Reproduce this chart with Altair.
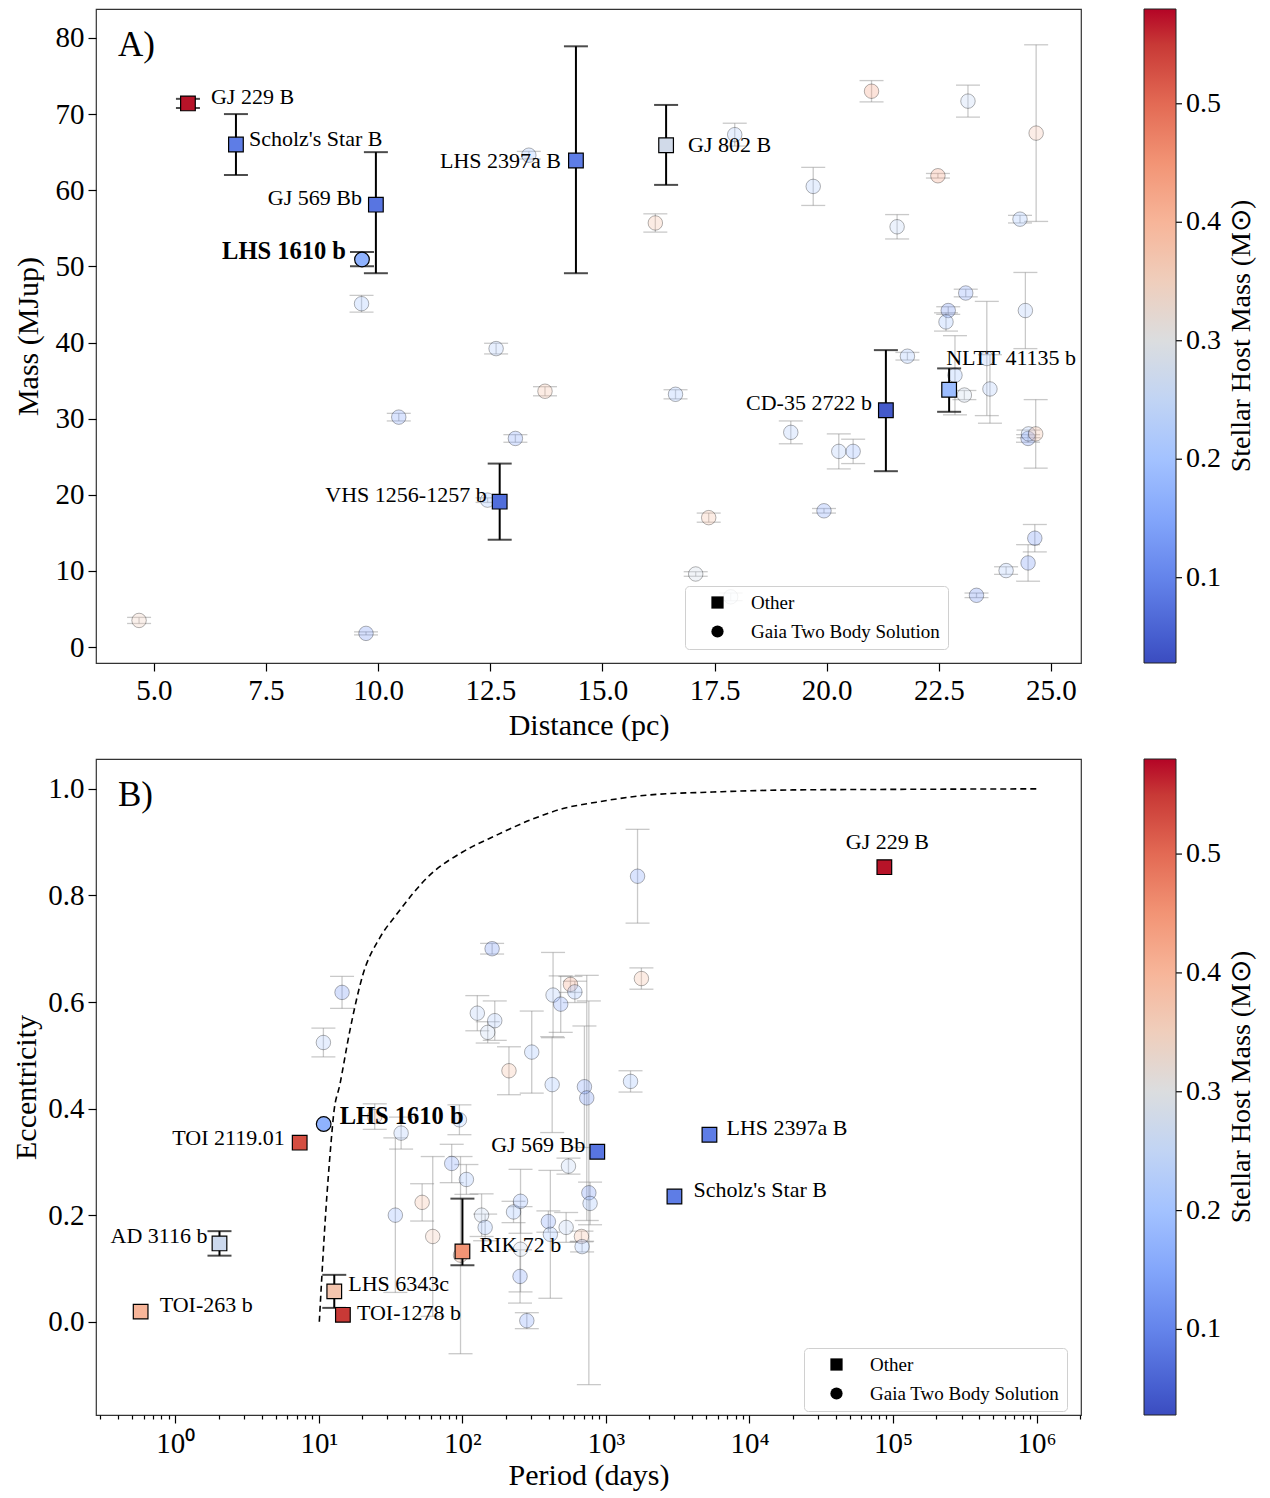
import altair as alt
import pandas as pd

FONT = "Liberation Serif"

# ---------------- Panel A : labelled objects ----------------
A_NAMES = ["GJ 229 B", "Scholz's Star B", "GJ 569 Bb", "LHS 1610 b", "LHS 2397a B",
           "GJ 802 B", "VHS 1256-1257 b", "CD-35 2722 b", "NLTT 41135 b"]
A_DIST = [5.76, 6.83, 9.95, 9.64, 14.41, 16.42, 12.71, 21.32, 22.73]
A_MASS = [71.4, 66.0, 58.1, 50.9, 63.9, 65.9, 19.1, 31.1, 33.8]
A_LO = [70.8, 62.0, 49.1, 50.0, 49.1, 60.7, 14.1, 23.1, 30.9]
A_HI = [72.0, 70.0, 65.0, 51.9, 78.9, 71.2, 24.1, 39.0, 36.6]
A_HOST = [0.575, 0.09, 0.08, 0.17, 0.09, 0.28, 0.07, 0.045, 0.19]
A_TYPE = ["Other", "Other", "Other", "Gaia Two Body Solution", "Other",
          "Other", "Other", "Other", "Other"]

# ---------------- Panel A : Gaia two-body solutions ----------------
GA_DIST = [9.63, 13.36, 17.95, 16.18, 19.70, 21.0, 21.57, 22.48, 23.15, 24.67,
           24.31, 23.10, 22.71, 22.66, 24.43, 23.57, 23.64, 22.86, 23.07, 21.80,
           24.49, 24.50, 24.66, 24.64, 24.49, 24.0, 23.34, 16.63, 19.20, 20.27,
           20.59, 17.37, 19.94, 17.08, 17.86, 12.63, 13.72, 10.46, 13.06, 12.44,
           4.67, 9.73]
GA_MASS = [45.1, 64.6, 67.3, 55.7, 60.5, 73.0, 55.2, 61.9, 71.7, 67.5,
           56.2, 46.5, 44.2, 42.7, 44.2, 37.9, 33.9, 35.7, 33.1, 38.2,
           27.4, 28.0, 28.0, 14.3, 11.05, 10.05, 6.8, 33.2, 28.2, 25.7,
           25.7, 17.0, 17.9, 9.6, 6.6, 39.2, 33.6, 30.2, 27.4, 19.3,
           3.5, 1.8]
GA_ERR = [1.1, 0.5, 1.5, 1.2, 2.5, 1.4, 1.6, 0.3, 2.1, 11.6,
          0.5, 0.5, 0.5, 1.2, 5.0, 7.5, 4.5, 5.2, 0.6, 0.5,
          0.5, 0.5, 4.5, 1.8, 2.4, 0.5, 0.3, 0.6, 1.5, 2.3,
          1.6, 0.6, 0.3, 0.3, 0.5, 0.7, 0.6, 0.5, 0.5, 0.3,
          0.4, 0.2]
GA_HOST = [0.20, 0.20, 0.22, 0.38, 0.22, 0.43, 0.25, 0.43, 0.25, 0.37,
           0.20, 0.15, 0.12, 0.20, 0.22, 0.22, 0.22, 0.20, 0.27, 0.20,
           0.12, 0.22, 0.38, 0.13, 0.13, 0.22, 0.12, 0.20, 0.22, 0.22,
           0.18, 0.38, 0.15, 0.28, 0.26, 0.22, 0.38, 0.15, 0.15, 0.20,
           0.35, 0.13]

# ---------------- Panel B : labelled objects ----------------
B_NAMES = ["GJ 229 B", "LHS 2397a B", "Scholz's Star B", "GJ 569 Bb", "LHS 1610 b",
           "TOI 2119.01", "AD 3116 b", "TOI-263 b", "LHS 6343c", "TOI-1278 b", "RIK 72 b"]
B_PERIOD = [87000, 5260, 3000, 870, 10.8, 7.35, 2.03, 0.573, 12.8, 14.7, 100.0]
B_ECC = [0.853, 0.351, 0.235, 0.319, 0.371, 0.336, 0.147, 0.019, 0.057, 0.013, 0.132]
B_HOST = [0.575, 0.09, 0.09, 0.08, 0.17, 0.53, 0.27, 0.40, 0.37, 0.55, 0.45]
B_TYPE = ["Other", "Other", "Other", "Other", "Gaia Two Body Solution",
          "Other", "Other", "Other", "Other", "Other", "Other"]
BE_NAMES = ["AD 3116 b", "LHS 6343c", "RIK 72 b"]
BE_LO = [0.124, 0.026, 0.106]
BE_HI = [0.170, 0.088, 0.231]

# ---------------- Panel B : Gaia two-body solutions ----------------
GB_PERIOD = [14.5, 10.75, 161, 127, 168, 150, 304, 211, 428, 484,
             566, 607, 708, 735, 760, 775, 37.4, 34.1, 52.4, 62.1,
             84.2, 95.3, 106.6, 97, 136, 144, 227, 254, 254, 252,
             281, 397, 410, 528, 548, 675, 682, 1660, 1766, 1483,
             24.5, 422]
GB_ECC = [0.618, 0.524, 0.700, 0.579, 0.565, 0.543, 0.506, 0.471, 0.613, 0.596,
          0.633, 0.619, 0.441, 0.420, 0.242, 0.222, 0.354, 0.200, 0.224, 0.160,
          0.297, 0.379, 0.267, 0.125, 0.200, 0.177, 0.206, 0.226, 0.136, 0.085,
          0.002, 0.188, 0.164, 0.177, 0.292, 0.160, 0.141, 0.836, 0.644, 0.451,
          0.385, 0.445]
GB_ERR = [0.030, 0.027, 0.010, 0.033, 0.037, 0.020, 0.077, 0.045, 0.080, 0.053,
          0.015, 0.020, 0.114, 0.230, 0.360, 0.040, 0.030, 0.145, 0.035, 0.150,
          0.036, 0.028, 0.028, 0.185, 0.040, 0.025, 0.020, 0.060, 0.080, 0.050,
          0.015, 0.020, 0.120, 0.028, 0.015, 0.010, 0.010, 0.088, 0.020, 0.020,
          0.024, 0.090]
GB_HOST = [0.13, 0.22, 0.13, 0.23, 0.22, 0.26, 0.20, 0.38, 0.22, 0.15,
           0.42, 0.20, 0.15, 0.13, 0.13, 0.20, 0.22, 0.18, 0.38, 0.36,
           0.15, 0.22, 0.20, 0.38, 0.26, 0.20, 0.20, 0.18, 0.27, 0.15,
           0.15, 0.15, 0.20, 0.25, 0.25, 0.38, 0.20, 0.15, 0.38, 0.20,
           0.38, 0.20]

# dashed limit curve
CURVE_P = [10.07, 11.16, 12.09, 12.69, 14.0, 16.4, 20.3, 26.5, 34.7, 59.2, 101,
           172.6, 294, 503, 859, 1905, 5550, 20000, 100000, 1000000]
CURVE_E = [0.0, 0.205, 0.329, 0.391, 0.445, 0.545, 0.652, 0.720, 0.764, 0.838, 0.882,
           0.913, 0.941, 0.963, 0.975, 0.988, 0.994, 0.998, 0.999, 1.0]

# coolwarm colormap stops
CW_COLS = ["#3b4cc0", "#4d68d7", "#6282ea", "#779af7", "#8db0fe", "#a3c2ff",
           "#b8d0f9", "#ccd9ee", "#dddddd", "#ecd3c5", "#f5c4ac", "#f7b194",
           "#f49a7b", "#ec7f63", "#de604d", "#cb3e38", "#b40426"]
HOST_MIN, HOST_MAX = 0.028, 0.58
CW_DOM = [HOST_MIN + i / 16 * (HOST_MAX - HOST_MIN) for i in range(17)]
CBAR_TICKS = [0.1, 0.2, 0.3, 0.4, 0.5]
CBAR_TITLE = "Stellar Host Mass (M\u2299)"

A_XTICKS = [5.0, 7.5, 10.0, 12.5, 15.0, 17.5, 20.0, 22.5, 25.0]
A_YTICKS = [0, 10, 20, 30, 40, 50, 60, 70, 80]
B_YTICKS = [0.0, 0.2, 0.4, 0.6, 0.8, 1.0]
B_XTICKS = [k * 10.0 ** n for n in range(-1, 7) for k in range(1, 10)
            if 0.28 <= k * 10.0 ** n <= 2.0e6]

SHAPE_DOM = ["Other", "Gaia Two Body Solution"]
SHAPE_RNG = ["square", "circle"]

H_A, H_B = 654, 656
CBAR_X = 1048
CBAR_W = 32


def color_enc(length):
    scale = alt.Scale(domain=CW_DOM, range=CW_COLS, clamp=True)
    leg = alt.Legend(
        orient="none", legendX=CBAR_X, legendY=0, direction="vertical",
        gradientLength=length, gradientThickness=CBAR_W, gradientStrokeColor="#222",
        gradientStrokeWidth=1, values=CBAR_TICKS, format=".1f",
        labelFont=FONT, labelFontSize=28, labelColor="black", labelOffset=10,
        title=None, padding=0)
    return alt.Color("host:Q", scale=scale, legend=leg)


def shape_enc(lx, ly):
    leg = alt.Legend(
        title=None, orient="none", legendX=lx, legendY=ly,
        fillColor="rgba(255,255,255,0.85)", strokeColor="#d0d0d0", cornerRadius=4,
        padding=7, symbolOffset=16, labelOffset=24, rowPadding=9, labelLimit=400,
        labelFont=FONT, labelFontSize=19, labelColor="black",
        symbolSize=150, symbolFillColor="black", symbolStrokeColor="black",
        symbolStrokeWidth=0, symbolOpacity=1)
    return alt.Shape("type:N", scale=alt.Scale(domain=SHAPE_DOM, range=SHAPE_RNG), legend=leg)


def panel(hl, faint, hl_err, xf, yenc, ylo, yhi, labels, tag, shape_xy, cbar_len,
          extra=None):
    layers = []
    layers.append(alt.Chart(faint).mark_rule(color="#888888", opacity=0.45, strokeWidth=1.3)
                  .encode(x=xf, y=ylo, y2="hi:Q"))
    layers.append(alt.Chart(faint).mark_tick(orient="horizontal", size=24, thickness=1.3,
                                             color="#888888", opacity=0.45)
                  .encode(x=xf, y=ylo))
    layers.append(alt.Chart(faint).mark_tick(orient="horizontal", size=24, thickness=1.3,
                                             color="#888888", opacity=0.45)
                  .encode(x=xf, y=yhi))
    layers.append(alt.Chart(faint).mark_point(shape="circle", filled=True, size=210,
                                              fillOpacity=0.3, strokeOpacity=0.3,
                                              stroke="black", strokeWidth=1)
                  .encode(x=xf, y=yenc, color=color_enc(cbar_len)))
    if extra is not None:
        layers.append(extra)
    layers.append(alt.Chart(hl_err).mark_rule(color="black", strokeWidth=2)
                  .encode(x=xf, y=ylo, y2="hi:Q"))
    layers.append(alt.Chart(hl_err).mark_tick(orient="horizontal", size=24, thickness=2,
                                              color="black")
                  .encode(x=xf, y=ylo))
    layers.append(alt.Chart(hl_err).mark_tick(orient="horizontal", size=24, thickness=2,
                                              color="black")
                  .encode(x=xf, y=yhi))
    layers.append(alt.Chart(hl).mark_point(filled=True, size=215, fillOpacity=1,
                                           stroke="black", strokeWidth=1.2)
                  .encode(x=xf, y=yenc, color=color_enc(cbar_len),
                          shape=shape_enc(*shape_xy)))
    for name, (dx, dy, align, weight) in labels.items():
        layers.append(alt.Chart(hl).transform_filter(alt.datum.name == name)
                      .mark_text(font=FONT, fontSize=24.5 if weight == "bold" else 22,
                                 dx=dx, dy=dy, align=align,
                                 baseline="middle", fontWeight=weight, color="black")
                      .encode(x=xf, y=yenc, text="name:N"))
    layers.append(alt.Chart(pd.DataFrame({"t": [tag]}))
                  .mark_text(font=FONT, fontSize=35, align="left", baseline="middle", color="black")
                  .encode(x=alt.value(22), y=alt.value(36), text="t:N"))
    layers.append(alt.Chart(pd.DataFrame({"t": [CBAR_TITLE]}))
                  .mark_text(font=FONT, fontSize=28, angle=270, align="center",
                             baseline="middle", color="black")
                  .encode(x=alt.value(1146), y=alt.value(cbar_len / 2), text="t:N"))
    main = alt.layer(*layers)
    # colourbar tick marks, on their own host-mass scale
    cticks = (alt.Chart(pd.DataFrame({"v": CBAR_TICKS}))
              .mark_rule(color="black", strokeWidth=1.2)
              .encode(y=alt.Y("v:Q", scale=alt.Scale(domain=[HOST_MIN, HOST_MAX], nice=False,
                                                     zero=False), axis=None),
                      x=alt.value(CBAR_X + CBAR_W), x2=alt.value(CBAR_X + CBAR_W + 6)))
    return alt.layer(main, cticks).resolve_scale(y="independent")


dfA = pd.DataFrame({"name": A_NAMES, "x": A_DIST, "y": A_MASS, "lo": A_LO, "hi": A_HI,
                    "host": A_HOST, "type": A_TYPE})
dfGA = pd.DataFrame({"x": GA_DIST, "y": GA_MASS, "host": GA_HOST})
dfGA["lo"] = dfGA["y"] - pd.Series(GA_ERR)
dfGA["hi"] = dfGA["y"] + pd.Series(GA_ERR)

dfB = pd.DataFrame({"name": B_NAMES, "x": B_PERIOD, "y": B_ECC, "host": B_HOST, "type": B_TYPE})
dfBE = dfB[dfB["name"].isin(BE_NAMES)].copy()
dfBE["lo"] = [BE_LO[BE_NAMES.index(n)] for n in dfBE["name"]]
dfBE["hi"] = [BE_HI[BE_NAMES.index(n)] for n in dfBE["name"]]
dfGB = pd.DataFrame({"x": GB_PERIOD, "y": GB_ECC, "host": GB_HOST})
dfGB["lo"] = dfGB["y"] - pd.Series(GB_ERR)
dfGB["hi"] = dfGB["y"] + pd.Series(GB_ERR)
dfC = pd.DataFrame({"x": CURVE_P, "y": CURVE_E})

ax_common = dict(labelFont=FONT, labelFontSize=29, labelColor="black", titleFont=FONT,
                 titleFontSize=30, titleFontWeight="normal", titleColor="black",
                 tickColor="black", tickWidth=1.2, domain=False, grid=False,
                 labelOverlap=False)
xA = alt.X("x:Q", scale=alt.Scale(domain=[3.71, 25.67], nice=False, zero=False),
           axis=alt.Axis(values=A_XTICKS, format=".1f", title="Distance (pc)", tickSize=8,
                         labelPadding=5, titlePadding=5, **ax_common))
yA_scale = alt.Scale(domain=[-2.09, 83.8], nice=False, zero=False)
yA_axis = alt.Axis(values=A_YTICKS, format="d", title="Mass (MJup)", labelPadding=4,
                   tickSize=8, titlePadding=12, **ax_common)
yA = alt.Y("y:Q", scale=yA_scale, axis=yA_axis)
yA_lo = alt.Y("lo:Q", scale=yA_scale, axis=yA_axis)
yA_hi = alt.Y("hi:Q", scale=yA_scale, axis=yA_axis)

labels_A = {
    "GJ 229 B": (23, -6, "left", "normal"),
    "Scholz's Star B": (13, -6, "left", "normal"),
    "GJ 569 Bb": (-14, -7, "right", "normal"),
    "LHS 1610 b": (-16, -8, "right", "bold"),
    "LHS 2397a B": (-15, 0, "right", "normal"),
    "GJ 802 B": (22, 0, "left", "normal"),
    "VHS 1256-1257 b": (-13, -7, "right", "normal"),
    "CD-35 2722 b": (-14, -7, "right", "normal"),
    "NLTT 41135 b": (-3, -32, "left", "normal"),
}

panelA = panel(dfA, dfGA, dfA, xA, yA, yA_lo, yA_hi, labels_A, "A)",
               (589, 577), H_A).properties(width=985, height=H_A)

is_major = "abs(log(datum.value)/LN10 - round(log(datum.value)/LN10)) < 0.001"
sup = "['\u2070','\u00b9','\u00b2','\u00b3','\u2074','\u2075','\u2076']"
xB = alt.X("x:Q", scale=alt.Scale(type="log", domain=[0.28, 2.04e6], nice=False),
           axis=alt.Axis(values=B_XTICKS, title="Period (days)",
                         labelExpr=is_major + " ? '10' + " + sup + "[round(log(datum.value)/LN10)] : ''",
                         tickSize={"condition": {"test": is_major, "value": 8}, "value": 4},
                         labelPadding=6, titlePadding=2, **ax_common))
yB_scale = alt.Scale(domain=[-0.175, 1.056], nice=False, zero=False)
yB_axis = alt.Axis(values=B_YTICKS, format=".1f", title="Eccentricity", labelPadding=4,
                   titlePadding=6, tickSize=8, **ax_common)
yB = alt.Y("y:Q", scale=yB_scale, axis=yB_axis)
yB_lo = alt.Y("lo:Q", scale=yB_scale, axis=yB_axis)
yB_hi = alt.Y("hi:Q", scale=yB_scale, axis=yB_axis)

curve = alt.Chart(dfC).mark_line(color="black", strokeDash=[6, 4], strokeWidth=1.6,
                                 interpolate="monotone").encode(x=xB, y=yB)

labels_B = {
    "GJ 229 B": (3, -25, "center", "normal"),
    "LHS 2397a B": (17, -7, "left", "normal"),
    "Scholz's Star B": (19, -7, "left", "normal"),
    "GJ 569 Bb": (-12, -7, "right", "normal"),
    "LHS 1610 b": (16, -7, "left", "bold"),
    "TOI 2119.01": (-15, -5, "right", "normal"),
    "AD 3116 b": (-12, -7, "right", "normal"),
    "TOI-263 b": (19, -7, "left", "normal"),
    "LHS 6343c": (14, -7, "left", "normal"),
    "TOI-1278 b": (14, -2, "left", "normal"),
    "RIK 72 b": (17, -6, "left", "normal"),
}

panelB = panel(dfB, dfGB, dfBE, xB, yB, yB_lo, yB_hi, labels_B, "B)",
               (708, 589), H_B, extra=curve).properties(width=985, height=H_B)

chart = (alt.vconcat(panelA, panelB, spacing=17)
         .resolve_scale(color="independent", shape="independent")
         .resolve_legend(color="independent", shape="independent")
         .configure_view(stroke="#333333", strokeWidth=1.2)
         .properties(padding={"left": 3, "top": 0, "right": 0, "bottom": 0},
                     background="white"))

chart.save("out.html", embed_options={"renderer": "svg", "actions": False})
